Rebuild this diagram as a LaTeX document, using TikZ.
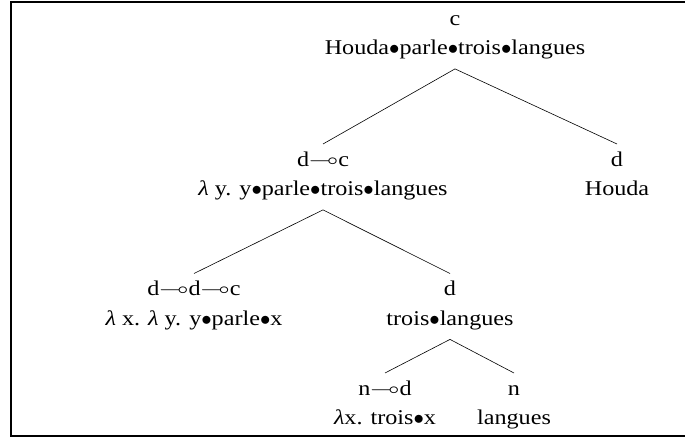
\documentclass[tikz,border=0pt]{standalone}
\usepackage{amssymb}
\usepackage{graphicx}
\usepackage{fontspec}
\setmainfont{Liberation Serif}[FakeStretch=1.15]
\usepackage{tikz}
\usetikzlibrary{positioning}
\newcommand{\topstrut}{\rule{0pt}{20pt}}
\newcommand{\botstrut}{\rule[-12pt]{0pt}{12pt}}
\newcommand{\lolli}{\scalebox{1.25}[1]{$\multimap$}}
\newcommand{\bul}{$\bullet$}
\newcommand{\lam}{{\itshape λ}}

\begin{document}
\begin{tikzpicture}[x=1pt, y=-1pt,
    term/.style={anchor=north, align=center, inner xsep=0pt, inner ysep=2pt,
      font=\fontsize{21}{29.5}\selectfont},
    branch/.style={line width=0.6pt}]
        \useasboundingbox (0,0) rectangle (685,438);
        \draw[line width=2pt] (685,2) -- (11,2) -- (11,436) -- (685,436);
        % Root
        \node[term] (root) at (455,3) {\topstrut c\\Houda\bul parle\bul trois\bul langues\botstrut};
        % Level 1
        \node[term] (vp) at (323,144) {\topstrut d\lolli c\\\lam{} y. y\bul parle\bul trois\bul langues\botstrut};
        \node[term] (subj) at (617,144) {\topstrut d\\Houda\botstrut};
        % Level 2
        \node[term] (verb) at (194,273.5) {\topstrut d\lolli d\lolli c\\\lam{} x. \lam{} y. y\bul parle\bul x\botstrut};
        \node[term] (obj) at (450,273.5) {\topstrut d\\trois\bul langues\botstrut};
        % Level 3
        \node[term] (det) at (385,373) {\topstrut n\lolli d\\\lam x. trois\bul x\botstrut};
        \node[term] (noun) at (514,373) {\topstrut n\\langues\botstrut};
        % Branches
        \draw[branch] (root.south) -- (vp.north);
        \draw[branch] (root.south) -- (subj.north);
        \draw[branch] (vp.south) -- (verb.north);
        \draw[branch] (vp.south) -- (obj.north);
        \draw[branch] (obj.south) -- (det.north);
        \draw[branch] (obj.south) -- (noun.north);
\end{tikzpicture}
\end{document}
